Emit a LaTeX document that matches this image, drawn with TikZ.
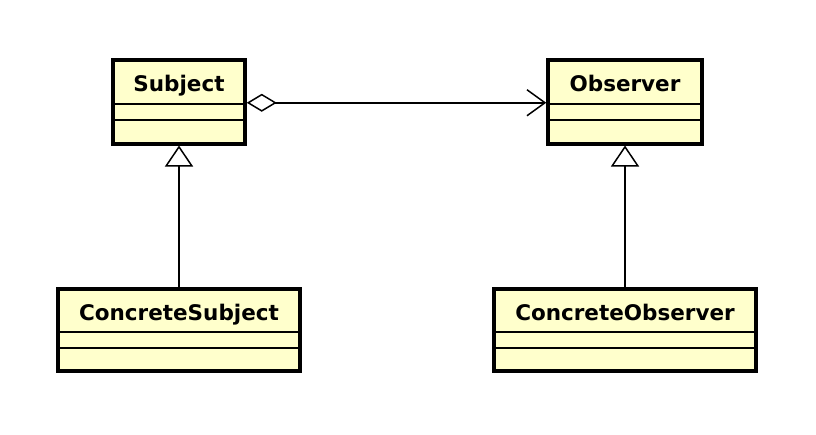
\documentclass[tikz,border=0pt]{standalone}
\usepackage{fontspec}
\setmainfont{DejaVu Sans}
\usetikzlibrary{arrows.meta}

\definecolor{classfill}{RGB}{255,255,204}
\tikzset{
  classbox/.style={draw, line width=3.5pt, fill=classfill, anchor=north, inner sep=0pt},
  classname/.style={inner sep=0pt, anchor=base, font=\fontsize{21.5}{24}\selectfont\bfseries},
  compline/.style={line width=1.7pt},
  inherit/.style={line width=1.5pt, -{Triangle[open, length=21pt, width=28pt, line width=1.5pt]}},
  aggreg/.style={line width=1.5pt, {Diamond[open, length=30pt, width=18pt, line width=1.5pt]}-{Straight Barb[length=18pt, width=26pt, line width=1.5pt]}}
}

\begin{document}
\begin{tikzpicture}[x=1pt,y=1pt,yscale=-1]
\useasboundingbox (0,0) rectangle (816,434);

%Class: Subject
\node[classbox, minimum width=132pt, minimum height=84pt] (subj) at (179,58) {};
\node[classname] (subjname) at ([yshift=33pt]subj.north) {Subject};
\draw[compline] ([yshift=46pt]subj.north west) -- ([yshift=46pt]subj.north east);
\draw[compline] ([yshift=62pt]subj.north west) -- ([yshift=62pt]subj.north east);

%Class: Observer
\node[classbox, minimum width=154pt, minimum height=84pt] (obs) at (625,58) {};
\node[classname] (obsname) at ([yshift=33pt]obs.north) {Observer};
\draw[compline] ([yshift=46pt]obs.north west) -- ([yshift=46pt]obs.north east);
\draw[compline] ([yshift=62pt]obs.north west) -- ([yshift=62pt]obs.north east);

%Class: ConcreteSubject
\node[classbox, minimum width=242pt, minimum height=82pt] (csubj) at (179,287) {};
\node[classname] (csubjname) at ([yshift=33pt]csubj.north) {ConcreteSubject};
\draw[compline] ([yshift=45pt]csubj.north west) -- ([yshift=45pt]csubj.north east);
\draw[compline] ([yshift=61pt]csubj.north west) -- ([yshift=61pt]csubj.north east);

%Class: ConcreteObserver
\node[classbox, minimum width=262pt, minimum height=82pt] (cobs) at (625,287) {};
\node[classname] (cobsname) at ([yshift=33pt]cobs.north) {ConcreteObserver};
\draw[compline] ([yshift=45pt]cobs.north west) -- ([yshift=45pt]cobs.north east);
\draw[compline] ([yshift=61pt]cobs.north west) -- ([yshift=61pt]cobs.north east);

%Aggregation
\draw[aggreg] ([yshift=1pt]subj.east) -- ([yshift=1pt]obs.west);

%Generalizations
\draw[inherit] (csubj.north) -- (subj.south);
\draw[inherit] (cobs.north) -- (obs.south);

\end{tikzpicture}
\end{document}
